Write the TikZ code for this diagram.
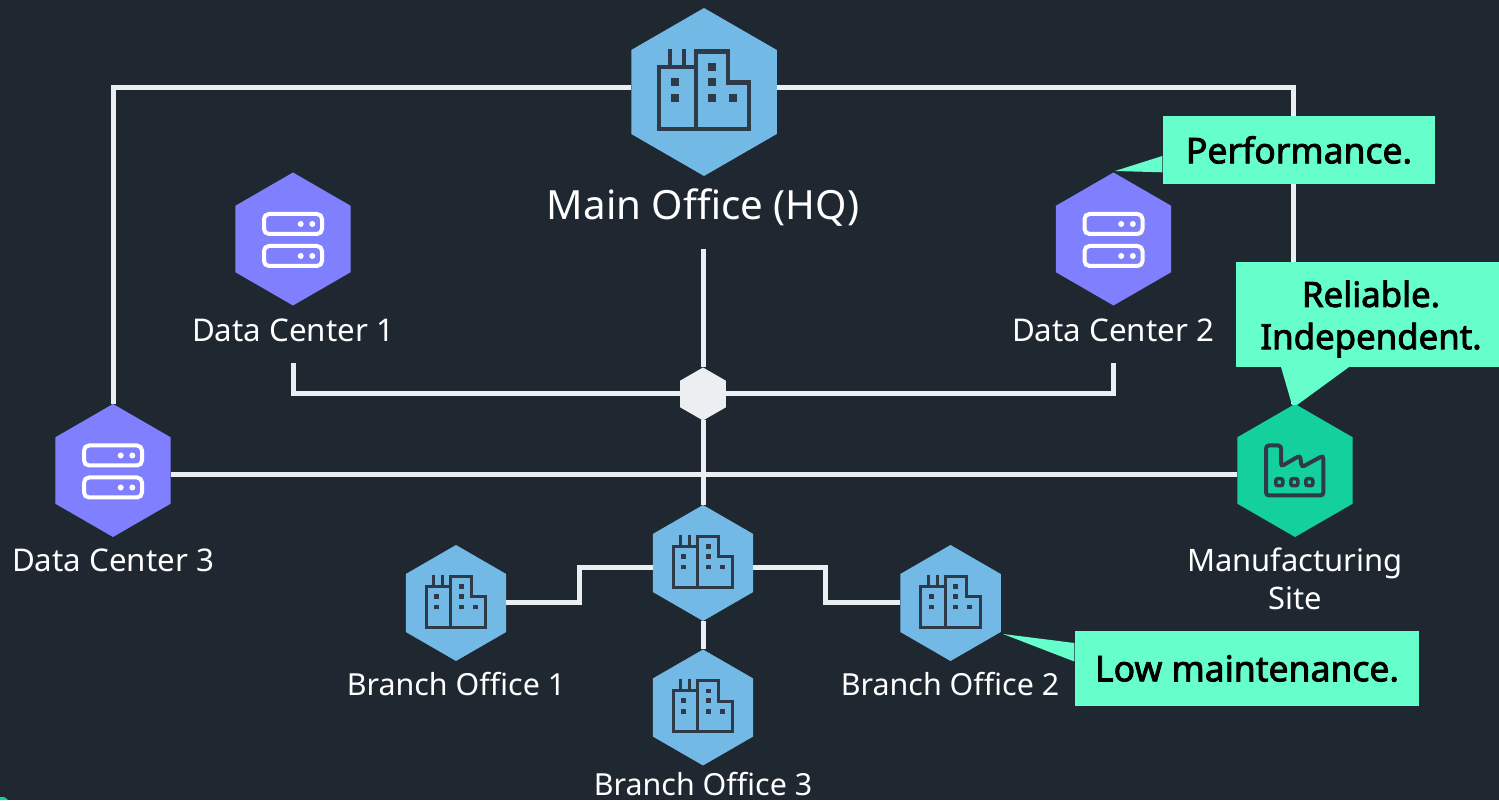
\documentclass[tikz,border=0pt]{standalone}
\usepackage{fontspec}
\setmainfont{Noto Sans}
\newfontfamily\notefont[FakeBold=2.4]{Noto Sans}
\usetikzlibrary{shapes.geometric}
\definecolor{bgcol}{HTML}{1F2730}
\definecolor{linecol}{HTML}{ECEFF2}
\definecolor{bluecol}{HTML}{73B9E6}
\definecolor{purplecol}{HTML}{8080FF}
\definecolor{greencol}{HTML}{14D09C}
\definecolor{notecol}{HTML}{66FFCC}
\definecolor{iconcol}{HTML}{2E3A48}
\tikzset{
  hexnode/.style={regular polygon, regular polygon sides=6, shape border rotate=30, inner sep=0pt, outer sep=0pt, minimum size=#1},
  link/.style={draw=linecol, line width=0.05cm},
  label/.style={text=white, align=center, font=\fontsize{8.9}{10.8}\selectfont},
  branchlabel/.style={label, font=\fontsize{8.65}{10.8}\selectfont},
  note/.style={fill=notecol, text=black, align=center, inner sep=0pt, font=\notefont\fontsize{10.1}{12}\selectfont},
  office/.pic={
    \draw[iconcol, line join=miter] (-0.45,0.25) rectangle (-0.08,-0.37);
    \draw[iconcol] (-0.08,-0.37) -- (-0.08,0.405) -- (0.24,0.405) -- (0.24,0.095) -- (0.45,0.095) -- (0.45,-0.37) -- cycle;
    \draw[iconcol] (-0.34,0.25) -- (-0.34,0.43) (-0.20,0.25) -- (-0.20,0.43);
    \fill[iconcol] (-0.29,0.10) +(-0.037,-0.037) rectangle +(0.037,0.037);
    \fill[iconcol] (-0.29,-0.06) +(-0.037,-0.037) rectangle +(0.037,0.037);
    \fill[iconcol] (0.08,0.25) +(-0.037,-0.037) rectangle +(0.037,0.037);
    \fill[iconcol] (0.08,0.10) +(-0.037,-0.037) rectangle +(0.037,0.037);
    \fill[iconcol] (0.08,-0.06) +(-0.037,-0.037) rectangle +(0.037,0.037);
    \fill[iconcol] (0.29,-0.06) +(-0.037,-0.037) rectangle +(0.037,0.037);
  },
  server/.pic={
    \draw[white, line width=0.04cm, rounded corners=0.05cm] (-0.29,0.05) rectangle (0.29,0.25);
    \draw[white, line width=0.04cm, rounded corners=0.05cm] (-0.29,-0.27) rectangle (0.29,-0.07);
    \fill[white] (0.077,0.15) circle (0.03) (0.193,0.15) circle (0.03);
    \fill[white] (0.077,-0.17) circle (0.03) (0.193,-0.17) circle (0.03);
  },
  factory/.pic={
    \draw[iconcol, line width=0.04cm, rounded corners=0.03cm] (-0.29,-0.25) -- (-0.29,0.25) -- (-0.14,0.25) -- (-0.14,0.04) -- (0.05,0.15) -- (0.067,0.033) -- (0.283,0.15) -- (0.283,-0.25) -- cycle;
    \draw[iconcol, line width=0.035cm, rounded corners=0.02cm] (-0.192,-0.152) rectangle (-0.122,-0.082);
    \draw[iconcol, line width=0.035cm, rounded corners=0.02cm] (-0.042,-0.152) rectangle (0.028,-0.082);
    \draw[iconcol, line width=0.035cm, rounded corners=0.02cm] (0.108,-0.152) rectangle (0.178,-0.082);
  }
}
\begin{document}
\begin{tikzpicture}
\useasboundingbox (0,0) rectangle (14.99,8);
\clip (0,0) rectangle (14.99,8);
\fill[bgcol] (0,0) rectangle (14.99,8);
\fill[greencol] (0,0) -- (0,0.03) .. controls (0.05,0.03) .. (0.08,0) -- cycle;
% hexagons
\node[hexnode=1.68cm, fill=bluecol] (main) at (7.04,7.08) {};
\node[hexnode=1.33cm, fill=purplecol] (dcone) at (2.93,5.61) {};
\node[hexnode=1.33cm, fill=purplecol] (dctwo) at (11.135,5.61) {};
\node[hexnode=1.33cm, fill=purplecol] (dcthree) at (1.13,3.295) {};
\node[hexnode=1.33cm, fill=greencol] (site) at (12.95,3.295) {};
\node[hexnode=0.53cm, fill=linecol] (junction) at (7.03,4.06) {};
\node[hexnode=1.16cm, fill=bluecol] (hub) at (7.03,2.37) {};
\node[hexnode=1.16cm, fill=bluecol] (branchone) at (4.56,1.97) {};
\node[hexnode=1.16cm, fill=bluecol] (branchtwo) at (9.505,1.97) {};
\node[hexnode=1.16cm, fill=bluecol] (branchthree) at (7.03,0.925) {};
% icons
\pic[line width=0.045cm] at (7.04,7.08) {office};
\pic[scale=0.66, line width=0.03cm] at (7.03,2.37) {office};
\pic[scale=0.66, line width=0.03cm] at (4.56,1.97) {office};
\pic[scale=0.66, line width=0.03cm] at (9.505,1.97) {office};
\pic[scale=0.66, line width=0.03cm] at (7.03,0.925) {office};
\pic at (2.93,5.61) {server};
\pic at (11.135,5.61) {server};
\pic at (1.13,3.295) {server};
\pic at (12.95,3.295) {factory};
% labels
\node[label, font=\fontsize{11.45}{14}\selectfont] (mainlabel) at (7.03,5.92) {Main Office (HQ)};
\node[label] (dconelabel) at (2.93,4.70) {Data Center 1};
\node[label] (dctwolabel) at (11.13,4.70) {Data Center 2};
\node[label] (dcthreelabel) at (1.13,2.40) {Data Center 3};
\node[label, font=\fontsize{8.8}{10.8}\selectfont] (sitelabel) at (12.95,2.21) {Manufacturing\\Site};
\node[branchlabel] (branchonelabel) at (4.56,1.16) {Branch Office 1};
\node[branchlabel] (branchtwolabel) at (9.50,1.16) {Branch Office 2};
\node[branchlabel] (branchthreelabel) at (7.03,0.16) {Branch Office 3};
% free ends
\coordinate (mainw) at (6.31,7.12);
\coordinate (maine) at (7.77,7.12);
\coordinate (mains) at (7.03,5.51);
\coordinate (dcones) at (2.93,4.37);
\coordinate (dctwos) at (11.13,4.37);
% links
\draw[link] (mainw) -| (dcthree);
\draw[link] (maine) -| ([xshift=-0.015cm]site.north);
\draw[link] (mains) -- (junction);
\draw[link] (dcones) |- (junction);
\draw[link] (dctwos) |- (junction);
\draw[link] (junction) -- (hub);
\draw[link] ([yshift=-0.04cm]dcthree.east) -- ([yshift=-0.04cm]site.west);
\draw[link] ([yshift=-0.05cm]hub.west) -- ++(-0.73,0) |- (branchone);
\draw[link] ([yshift=-0.05cm]hub.east) -- ++(0.72,0) |- (branchtwo);
\draw[link] (hub) -- (branchthree);
% notes
\node[note, minimum width=2.72cm, minimum height=0.68cm] (perf) at (12.99,6.50) {Performance.};
\fill[notecol] ([yshift=-0.06cm]perf.west) -- (11.15,6.29) -- ([yshift=-0.223cm]perf.west) -- cycle;
\node[note, minimum width=2.70cm, minimum height=1.05cm] (reliable) at (13.71,4.855) {};
\node[note, fill=none, font=\notefont\fontsize{9.9}{12}\selectfont] (reliabletext) at (13.71,4.81) {Reliable.\\Independent.};
\fill[notecol] (12.81,4.33) -- (12.92,3.95) -- (12.97,3.95) -- (13.49,4.33) -- cycle;
\node[note, minimum width=3.44cm, minimum height=0.75cm] (lowmaint) at (12.47,1.315) {Low maintenance.};
\fill[notecol] ([yshift=0.255cm]lowmaint.west) -- (10.03,1.66) -- ([yshift=0.07cm]lowmaint.west) -- cycle;
\end{tikzpicture}
\end{document}
